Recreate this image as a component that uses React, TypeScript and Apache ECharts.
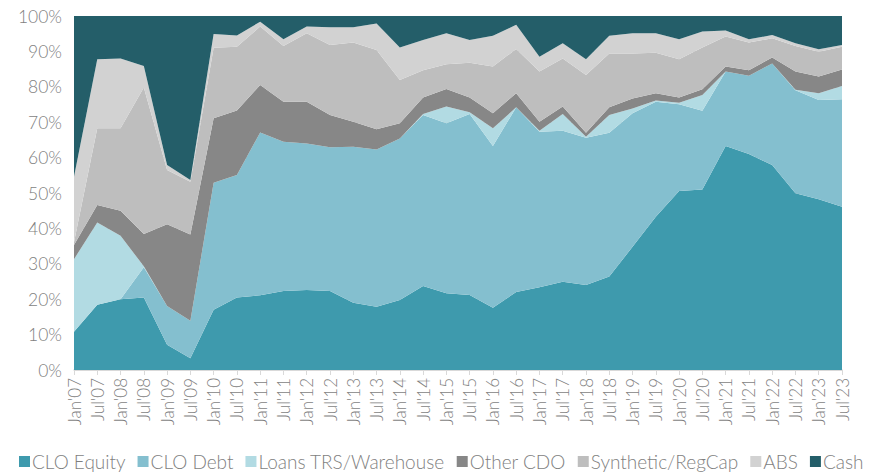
import React, { useEffect, useRef } from "react";
import * as echarts from "echarts";

const categories = [
  "Jan'07", "Jul'07", "Jan'08", "Jul'08", "Jan'09", "Jul'09", "Jan'10", "Jul'10",
  "Jan'11", "Jul'11", "Jan'12", "Jul'12", "Jan'13", "Jul'13", "Jan'14", "Jul'14",
  "Jan'15", "Jul'15", "Jan'16", "Jul'16", "Jan'17", "Jul'17", "Jan'18", "Jul'18",
  "Jan'19", "Jul'19", "Jan'20", "Jul'20", "Jan'21", "Jul'21", "Jan'22", "Jul'22",
  "Jan'23", "Jul'23",
];

const cloEquity = [
  10.8, 18.4, 20.0, 20.5, 7.1, 3.3, 17.0, 20.5, 21.1, 22.3, 22.6, 22.3, 19.0, 17.9, 19.8, 23.7,
  21.7, 21.2, 17.6, 22.0, 23.4, 24.9, 24.0, 26.4, 34.8, 43.3, 50.6, 51.0, 63.3, 61.0, 57.9, 49.9,
  48.2, 46.1,
];
const cloDebt = [
  0, 0, 0, 8.5, 11.0, 10.6, 35.9, 34.6, 46.0, 42.2, 41.4, 40.6, 44.1, 44.4, 45.6, 48.3,
  48.0, 51.1, 45.7, 52.2, 43.9, 42.7, 41.6, 40.6, 37.7, 32.5, 24.5, 22.2, 21.0, 22.1, 28.7, 29.1,
  28.1, 30.4,
];
const loansTrs = [
  20.5, 23.3, 17.9, 0.3, 0, 0, 0, 0, 0, 0, 0, 0, 0, 0, 0, 0.3,
  4.7, 0.5, 5.0, 0, 0.3, 4.7, 0.3, 5.0, 1.4, 0.3, 0.4, 4.5, 0, 0, 0, 0.2,
  1.9, 3.7,
];
const otherCdo = [
  4.0, 4.9, 7.1, 9.1, 23.1, 24.4, 18.2, 18.2, 13.4, 11.3, 11.8, 9.1, 7.0, 5.7, 4.3, 4.7,
  5.0, 4.2, 4.2, 4.0, 2.5, 2.1, 1.1, 2.2, 2.8, 2.1, 1.5, 1.6, 1.4, 1.6, 1.7, 5.1,
  4.7, 4.7,
];
const syntheticRegCap = [
  0.8, 21.7, 23.3, 41.4, 15.3, 14.9, 19.9, 18.0, 16.5, 15.7, 19.3, 19.8, 22.4, 22.4, 12.2, 7.7,
  7.0, 9.8, 13.2, 12.5, 14.2, 13.6, 16.3, 15.2, 12.7, 11.4, 10.8, 11.8, 8.5, 7.8, 5.4, 7.2,
  7.0, 6.4,
];
const abs = [
  18.5, 19.5, 19.7, 6.1, 1.4, 0.5, 3.9, 3.2, 1.4, 1.9, 1.9, 5.0, 4.3, 7.5, 9.2, 8.5,
  8.7, 6.4, 8.7, 6.8, 4.2, 4.3, 4.5, 5.0, 5.7, 5.5, 5.6, 4.5, 1.7, 0.9, 0.9, 0.8,
  0.7, 0.5,
];
const cash = [
  45.4, 12.2, 12.0, 14.1, 42.1, 46.3, 5.1, 5.5, 1.6, 6.6, 3.0, 3.2, 3.2, 2.1, 8.9, 6.8,
  4.9, 6.8, 5.6, 2.5, 11.5, 7.7, 12.2, 5.6, 4.9, 4.9, 6.6, 4.4, 4.1, 6.6, 5.4, 7.7,
  9.4, 8.2,
];

const seriesNames = [
  "CLO Equity", "CLO Debt", "Loans TRS/Warehouse", "Other CDO", "Synthetic/RegCap", "ABS", "Cash",
];
const seriesData = [cloEquity, cloDebt, loansTrs, otherCdo, syntheticRegCap, abs, cash];
const colors = ["#3e9aad", "#84bfcf", "#b2dbe3", "#878787", "#bebebe", "#d2d2d2", "#245e69"];

const yTicks = { min: 0, max: 100, interval: 10 };

export default function App() {
  const ref = useRef<HTMLDivElement>(null);
  useEffect(() => {
    if (!ref.current) return;
    const chart = echarts.init(ref.current, undefined, { renderer: "svg" });
    const font = "Lato, 'Noto Sans', sans-serif";
    chart.setOption({
      animation: false,
      color: colors,
      grid: { left: 74, right: 35, top: 16, bottom: 104, containLabel: false },
      legend: {
        bottom: 3,
        left: 19,
        width: 870,
        padding: 0,
        itemWidth: 11,
        itemHeight: 11,
        itemGap: 12,
        icon: "rect",
        textStyle: { color: "#7f7f7f", fontSize: 19, fontFamily: font, fontWeight: 300, padding: [0, 0, 0, -3] },
        data: seriesNames,
      },
      xAxis: {
        type: "category",
        boundaryGap: false,
        data: categories,
        axisLine: { lineStyle: { color: "#d9d9d9", width: 1.5 } },
        axisTick: { show: true, length: 5, lineStyle: { color: "#d9d9d9" } },
        axisLabel: {
          rotate: 90,
          interval: 0,
          color: "#7f7f7f",
          fontSize: 17,
          fontFamily: font,
          fontWeight: 300,
          margin: 8,
        },
      },
      yAxis: {
        type: "value",
        min: yTicks.min,
        max: yTicks.max,
        interval: yTicks.interval,
        axisLine: { show: false },
        axisTick: { show: false },
        splitLine: { show: true, lineStyle: { color: "#d9d9d9" } },
        axisLabel: {
          formatter: "{value}%",
          color: "#7f7f7f",
          fontSize: 17.5,
          fontFamily: font,
          fontWeight: 300,
          margin: 12,
        },
      },
      series: seriesNames.map((name, i) => ({
        name,
        type: "line",
        stack: "total",
        data: seriesData[i],
        symbol: "none",
        lineStyle: { width: 0 },
        areaStyle: { color: colors[i], opacity: 1 },
        emphasis: { disabled: true },
      })),
    });
    return () => chart.dispose();
  }, []);
  return (
    <div
      ref={ref}
      style={{ position: "absolute", left: 0, top: 0, width: 877, height: 474 }}
    />
  );
}
